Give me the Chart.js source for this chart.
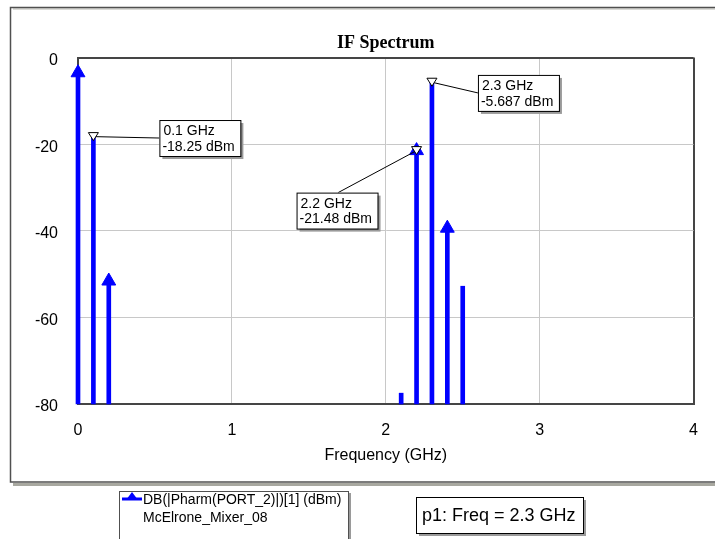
<!DOCTYPE html>
<html><head><meta charset="utf-8">
<script src="https://cdn.jsdelivr.net/npm/chart.js@4.4.1/dist/chart.umd.min.js"></script>
<style>html,body{margin:0;padding:0;background:#fff;overflow:hidden}#wrap{width:715px;height:539px;position:relative}</style>
</head><body><div id="wrap"><canvas id="c" width="715" height="539"></canvas></div>
<script>
// ---- data ----
const freqGHz   = [0, 0.1, 0.2, 2.1, 2.2, 2.3, 2.4, 2.5];
const powerDbm  = [-3.5, -18.25, -51.6, -77.5, -21.48, -5.687, -39.4, -52.8];
const arrowFreqs  = [0, 0.2, 2.2, 2.4];
const markerFreqs = [0.1, 2.3, 2.2];
const xTickValues = [0, 1, 2, 3, 4];
const yTickValues = [0, -20, -40, -60, -80];
const floorDbm = -80;
const chartTitle = 'IF Spectrum';
const xTitle = 'Frequency (GHz)';
const legendLine1 = 'DB(|Pharm(PORT_2)|)[1] (dBm)';
const legendLine2 = 'McElrone_Mixer_08';
const paramText = 'p1: Freq = 2.3 GHz';

// ---- styles ----
const BLUE = '#0000ff';
const SANS = '"Liberation Sans", Arial, Helvetica, sans-serif';
const markerBoxStyle = {
  0.1: {dx: 66, dy: -16.6, anchor: 'left'},
  2.3: {dx: 46, dy: -7.3, anchor: 'left'},
  2.2: {dx: -120, dy: 42, anchor: 'top'}
};
const valueAt = f => powerDbm[freqGHz.indexOf(f)];

const decor = {
  id: 'decor',
  beforeDraw(chart) {
    const ctx = chart.ctx;
    ctx.save();
    ctx.fillStyle = '#fff';
    ctx.fillRect(0, 0, chart.width, chart.height);
    // outer frame shadow
    ctx.fillStyle = '#a8a8a0';
    ctx.fillRect(13, 483, 710, 3);
    ctx.fillStyle = '#b8b8b0';
    ctx.fillRect(13, 8.5, 710, 1);
    // outer frame
    ctx.strokeStyle = '#505050';
    ctx.lineWidth = 1.5;
    ctx.strokeRect(10.5, 7.5, 720, 474.5);
    ctx.restore();
  },
  afterDatasetsDraw(chart) {
    const ctx = chart.ctx, xs = chart.scales.x, ys = chart.scales.y;
    ctx.save();
    markerFreqs.forEach(f => {
      const v = valueAt(f);
      const px = xs.getPixelForValue(f), py = ys.getPixelForValue(v);
      const st = markerBoxStyle[f];
      const bw = 81, bh = 36;
      const bx = px + st.dx, by = py + st.dy;
      let ax, ay;
      if (st.anchor === 'left') { ax = bx; ay = by + bh / 2; }
      else { ax = bx + 41.6; ay = by; }
      ctx.strokeStyle = '#000';
      ctx.lineWidth = 1;
      ctx.beginPath();
      ctx.moveTo(px, py);
      ctx.lineTo(ax, ay);
      ctx.stroke();
      ctx.beginPath();
      ctx.moveTo(px - 5, py - 4);
      ctx.lineTo(px + 5, py - 4);
      ctx.lineTo(px, py + 4);
      ctx.closePath();
      ctx.fillStyle = '#fff';
      ctx.fill();
      ctx.stroke();
      ctx.fillStyle = '#9a9a9a';
      ctx.fillRect(bx + 3, by + 3, bw, bh);
      ctx.fillStyle = '#fff';
      ctx.fillRect(bx, by, bw, bh);
      ctx.strokeStyle = '#000';
      ctx.strokeRect(bx + 0.5, by + 0.5, bw, bh);
      ctx.fillStyle = '#000';
      ctx.font = '14px ' + SANS;
      ctx.textBaseline = 'middle';
      ctx.textAlign = 'left';
      ctx.fillText(f + ' GHz', bx + 4, by + 11.5);
      ctx.fillText(v + ' dBm', bx + 3, by + 27);
    });
    ctx.restore();
  },
  afterDraw(chart) {
    const ctx = chart.ctx;
    ctx.save();
    // legend box
    ctx.fillStyle = '#9a9a9a';
    ctx.fillRect(121, 493, 230, 60);
    ctx.fillStyle = '#fff';
    ctx.fillRect(119, 491, 229, 60);
    ctx.strokeStyle = '#505050';
    ctx.lineWidth = 1;
    ctx.strokeRect(119.5, 491.5, 229, 60);
    // legend icon
    ctx.strokeStyle = BLUE;
    ctx.lineWidth = 3;
    ctx.beginPath();
    ctx.moveTo(122, 499);
    ctx.lineTo(142, 499);
    ctx.stroke();
    ctx.fillStyle = BLUE;
    ctx.beginPath();
    ctx.moveTo(132, 492);
    ctx.lineTo(138, 500);
    ctx.lineTo(126, 500);
    ctx.closePath();
    ctx.fill();
    ctx.fillStyle = '#000';
    ctx.font = '14px ' + SANS;
    ctx.textBaseline = 'middle';
    ctx.textAlign = 'left';
    ctx.fillText(legendLine1, 143, 500);
    ctx.fillText(legendLine2, 143, 518);
    // parameter box
    ctx.lineWidth = 1;
    ctx.fillStyle = '#9a9a9a';
    ctx.fillRect(419, 500, 167, 36);
    ctx.fillStyle = '#fff';
    ctx.fillRect(416, 497, 167, 36);
    ctx.strokeStyle = '#000';
    ctx.strokeRect(416.5, 497.5, 167, 36);
    ctx.fillStyle = '#000';
    ctx.font = '18px ' + SANS;
    ctx.fillText(paramText, 422, 516);
    ctx.restore();
  }
};

const edgeColor = (edges) => (c) => (c.tick && edges.includes(c.tick.value)) ? '#454545' : '#c8c8c8';
const edgeWidth = (edges) => (c) => (c.tick && edges.includes(c.tick.value)) ? 2 : 1;

new Chart(document.getElementById('c'), {
  type: 'bar',
  data: {
    datasets: [
      {
        type: 'scatter',
        data: arrowFreqs.map(f => ({x: f, y: valueAt(f)})),
        pointStyle: 'triangle',
        pointRadius: 8,
        pointHoverRadius: 8,
        backgroundColor: BLUE,
        borderColor: BLUE,
        borderWidth: 1,
        clip: false,
        order: 0
      },
      {
        type: 'bar',
        data: freqGHz.map((f, i) => ({x: f, y: [floorDbm, powerDbm[i]]})),
        backgroundColor: BLUE,
        borderWidth: 0,
        barThickness: 4,
        clip: false,
        order: 1
      }
    ]
  },
  options: {
    responsive: false,
    devicePixelRatio: 1,
    animation: false,
    events: [],
    layout: {padding: {top: 20, left: 0, right: 21, bottom: 65}},
    plugins: {
      legend: {display: false},
      tooltip: {enabled: false},
      title: {
        display: true,
        text: chartTitle,
        fullSize: false,
        color: '#000',
        font: {family: '"Liberation Serif", "Times New Roman", serif', size: 18, weight: 'bold'},
        padding: {top: 13, bottom: 3}
      }
    },
    scales: {
      x: {
        type: 'linear',
        min: 0, max: 4,
        offset: false,
        afterBuildTicks: s => { s.ticks = xTickValues.map(v => ({value: v})); },
        afterFit: s => { s.height = 70; },
        ticks: {color: '#000', font: {family: SANS, size: 16}, padding: 17, maxRotation: 0},
        grid: {offset: false, drawTicks: false, color: edgeColor([0, 4]), lineWidth: edgeWidth([0, 4])},
        border: {display: true, color: '#454545', width: 2},
        title: {display: true, text: xTitle, color: '#000', font: {family: SANS, size: 16}, padding: {top: 0, bottom: 9}}
      },
      y: {
        type: 'linear',
        min: -80, max: 0,
        afterBuildTicks: s => { s.ticks = yTickValues.map(v => ({value: v})); },
        afterFit: s => { s.width = 78; },
        ticks: {color: '#000', font: {family: SANS, size: 16}, padding: 20, labelOffset: 3},
        grid: {drawTicks: false, color: edgeColor([0, -80]), lineWidth: edgeWidth([0, -80])},
        border: {display: true, color: '#454545', width: 2}
      }
    }
  },
  plugins: [decor]
});
</script>
</body></html>
